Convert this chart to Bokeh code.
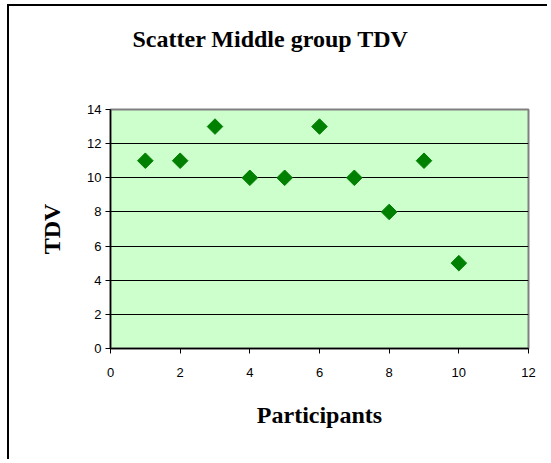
from bokeh.plotting import figure
from bokeh.models import FixedTicker, Range1d, Title
from bokeh.embed import file_html
from bokeh.resources import INLINE
import math

participants = [1, 2, 3, 4, 5, 6, 7, 8, 9, 10]
tdv = [11, 11, 13, 10, 10, 13, 10, 8, 11, 5]
x_ticks = [0, 2, 4, 6, 8, 10, 12]
y_ticks = [0, 2, 4, 6, 8, 10, 12, 14]
title_text = "Scatter Middle group TDV"
x_title = "Participants"
y_title = "TDV"

W, H = 540, 455
p = figure(width=W, height=H, output_backend="svg", toolbar_location=None,
           x_range=Range1d(0, 12), y_range=Range1d(0, 14),
           min_border_left=101, min_border_right=21,
           min_border_top=103, min_border_bottom=113,
           x_axis_label=x_title, y_axis_label=y_title)
p.title = None
p.styles = {"border-left": "2px solid black", "border-top": "2px solid black",
            "margin-left": "7px", "margin-top": "4px"}
p.background_fill_color = "#CCFFCC"
p.border_fill_color = "white"
p.outline_line_color = "#808080"
p.outline_line_width = 2

# spacer panel next to the frame, then the real title further out
p.add_layout(Title(text=" ", standoff=55, text_font_size="1px"), "above")
p.add_layout(Title(text=title_text, text_font="Liberation Serif",
                   text_font_style="bold", text_font_size="24px",
                   text_color="black", align="left", offset=22,
                   standoff=0), "above")

p.xgrid.visible = False
p.ygrid.ticker = FixedTicker(ticks=y_ticks[1:-1])
p.ygrid.grid_line_color = "black"
p.ygrid.grid_line_width = 1

for ax, ticks in ((p.xaxis[0], x_ticks), (p.yaxis[0], y_ticks)):
    ax.ticker = FixedTicker(ticks=ticks)
    ax.axis_line_color = "black"
    ax.axis_line_width = 1.5
    ax.major_tick_line_color = "black"
    ax.major_tick_in = 0
    ax.major_tick_out = 5
    ax.minor_tick_line_color = None
    ax.major_label_text_font = "Liberation Sans"
    ax.major_label_text_font_size = "13px"
    ax.major_label_text_color = "black"
    ax.axis_label_text_font = "Liberation Serif"
    ax.axis_label_text_font_style = "bold"
    ax.axis_label_text_font_size = "24px"
    ax.axis_label_text_color = "black"
p.xaxis.major_label_standoff = 14
p.yaxis.major_label_standoff = 4
p.xaxis.axis_label_standoff = 22
p.yaxis.axis_label_standoff = 19

p.scatter(participants, tdv, marker="square", size=11, angle=math.pi / 4,
          fill_color="#008000", line_color="#008000")

open("out.html", "w").write(file_html(p, INLINE))
